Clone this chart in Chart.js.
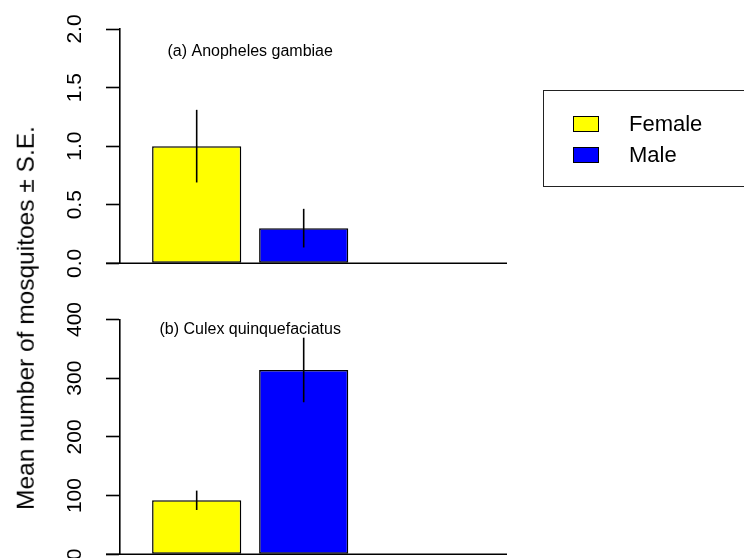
<!DOCTYPE html>
<html>
<head>
<meta charset="utf-8">
<script src="https://cdn.jsdelivr.net/npm/chart.js@4/dist/chart.umd.min.js"></script>
<style>
html,body{margin:0;padding:0;background:#fff;}
#wrap{position:relative;width:744px;height:558px;overflow:hidden;font-family:"Liberation Sans",Arial,sans-serif;color:#000;}
#ca{position:absolute;left:0;top:0;}
#cb{position:absolute;left:0;top:279px;}
#ytitle{position:absolute;left:26px;top:318px;transform:translate(-50%,-50%) rotate(-90deg);font-size:24.5px;line-height:1;white-space:nowrap;}
#legendBox{position:absolute;left:543px;top:90px;width:230px;height:97px;border:1.5px solid #222;box-sizing:border-box;}
.sw{position:absolute;left:573px;width:26px;height:16px;border:1.5px solid #000;box-sizing:border-box;}
.lt{position:absolute;left:629px;height:22px;line-height:22px;font-size:22px;white-space:nowrap;}
</style>
</head>
<body>
<div id="wrap">
  <canvas id="ca" width="744" height="279"></canvas>
  <canvas id="cb" width="744" height="279"></canvas>
  <div id="ytitle"></div>
  <div id="legendBox"></div>
</div>
<script>
// ---- data ----
const categories = ['Female', 'Male'];
const seriesColors = ['#FFFF00', '#0000FF'];
const anophelesMeans = [1.0, 0.30];
const anophelesSE = [0.31, 0.165];
const culexMeans = [92, 314];
const culexSE = [16.5, 55];
const anophelesTicks = [0, 0.5, 1.0, 1.5, 2.0];
const anophelesTickLabels = ['0.0', '0.5', '1.0', '1.5', '2.0'];
const culexTicks = [0, 100, 200, 300, 400];
const culexTickLabels = ['0', '100', '200', '300', '400'];
const panelTitles = ['(a) Anopheles gambiae', '(b) Culex quinquefaciatus'];
const yAxisTitle = 'Mean number of mosquitoes \u00B1 S.E.';

// R barplot geometry (width 1, space 0.2)
const BAR_W = 1, BAR_SPACE = 0.2;
const barCenter = i => BAR_SPACE + BAR_W / 2 + i * (BAR_W + BAR_SPACE);
const LINE_W = 1.6;

Chart.defaults.font.family = '"Liberation Sans", Arial, sans-serif';
Chart.defaults.color = '#000';

const panelPlugin = {
  id: 'panel',
  afterDatasetsDraw(chart, args, opts) {
    const {ctx, chartArea, scales: {x, y}} = chart;
    ctx.save();
    ctx.strokeStyle = '#000';
    ctx.lineWidth = LINE_W;
    const y0 = y.getPixelForValue(0);
    ctx.beginPath();
    ctx.moveTo(chartArea.left - opts.tickLength, y0);
    ctx.lineTo(chartArea.right, y0);
    ctx.stroke();
    chart.data.datasets.forEach((ds, di) => {
      const meta = chart.getDatasetMeta(di);
      meta.data.forEach((bar, i) => {
        const v = ds.data[i].y, e = ds.se[i];
        ctx.beginPath();
        ctx.moveTo(bar.x, y.getPixelForValue(v + e));
        ctx.lineTo(bar.x, y.getPixelForValue(v - e));
        ctx.stroke();
      });
    });
    ctx.fillStyle = '#000';
    ctx.font = '16px "Liberation Sans", Arial, sans-serif';
    ctx.textAlign = 'center';
    ctx.textBaseline = 'middle';
    ctx.fillText(opts.title, x.getPixelForValue(opts.titleX), y.getPixelForValue(opts.titleY));
    ctx.restore();
  }
};

function makePanel(canvasId, means, se, ticks, tickLabels, title, titleY, padTop, padBottom, tickPad) {
  const datasets = categories.map((c, i) => ({
    label: c,
    data: [{x: barCenter(i), y: means[i]}],
    se: [se[i]],
    backgroundColor: seriesColors[i],
    borderColor: '#000',
    borderWidth: 1.5,
    borderSkipped: false,
    grouped: false,
    barPercentage: BAR_W / (BAR_W + BAR_SPACE),
    categoryPercentage: 1
  }));
  return new Chart(document.getElementById(canvasId), {
    type: 'bar',
    data: {datasets},
    plugins: [panelPlugin],
    options: {
      responsive: false,
      animation: false,
      devicePixelRatio: 1,
      layout: {padding: {top: padTop, bottom: padBottom, left: 0, right: 237}},
      plugins: {
        legend: {display: false},
        tooltip: {enabled: false},
        panel: {title, titleX: 1.3, titleY, tickLength: 14}
      },
      scales: {
        x: {
          type: 'linear', display: false, offset: false, min: -0.16, max: 4.18,
          afterBuildTicks: s => { s.ticks = categories.map((c, i) => ({value: barCenter(i)})); }
        },
        y: {
          type: 'linear', position: 'left',
          min: ticks[0], max: ticks[ticks.length - 1],
          afterBuildTicks: s => { s.ticks = ticks.map(v => ({value: v})); },
          ticks: {
            callback: (v, i) => tickLabels[i],
            font: {size: 21},
            color: '#000',
            minRotation: 90, maxRotation: 90,
            crossAlign: 'center',
            padding: tickPad
          },
          grid: {drawOnChartArea: false, drawTicks: true, tickLength: 14, tickColor: '#000', tickWidth: LINE_W},
          border: {display: true, color: '#000', width: LINE_W},
          afterFit: s => { s.width = 120; s.paddingTop = 0; s.paddingBottom = 0; }
        }
      }
    }
  });
}

makePanel('ca', anophelesMeans, anophelesSE, anophelesTicks, anophelesTickLabels, panelTitles[0], 1.81, 29, 15.7, 15.9);
makePanel('cb', culexMeans, culexSE, culexTicks, culexTickLabels, panelTitles[1], 383, 40.5, 3.7, 13.0);

// axis title and legend as real text
document.getElementById('ytitle').textContent = yAxisTitle;
const wrap = document.getElementById('wrap');
const legendRowTop = [116, 147];
categories.forEach((c, i) => {
  const sw = document.createElement('div');
  sw.className = 'sw';
  sw.style.top = legendRowTop[i] + 'px';
  sw.style.background = seriesColors[i];
  wrap.appendChild(sw);
  const t = document.createElement('div');
  t.className = 'lt';
  t.style.top = (legendRowTop[i] + 8 - 11) + 'px';
  t.textContent = c;
  wrap.appendChild(t);
});
</script>
</body>
</html>
